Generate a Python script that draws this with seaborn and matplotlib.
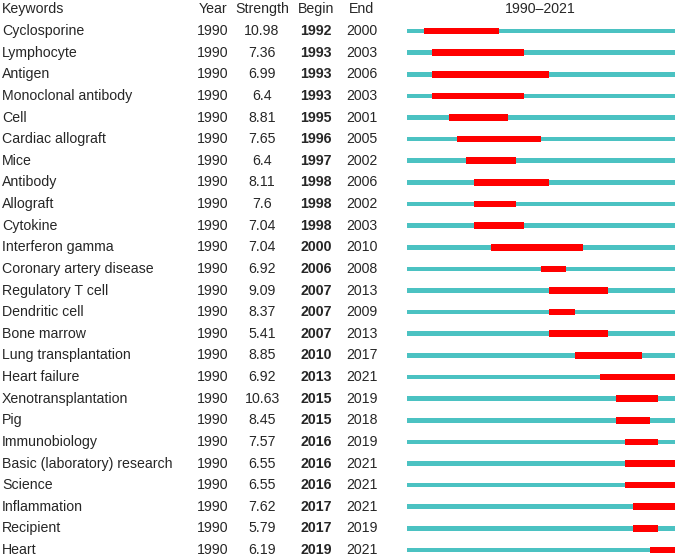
import numpy as np
import matplotlib.pyplot as plt
import matplotlib.transforms as mtransforms
import seaborn as sns

# --------------------------------------------------------------
# Data
# --------------------------------------------------------------

keywords = [
    "Cyclosporine", "Lymphocyte", "Antigen", "Monoclonal antibody", "Cell",
    "Cardiac allograft", "Mice", "Antibody", "Allograft", "Cytokine",
    "Interferon gamma", "Coronary artery disease", "Regulatory T cell",
    "Dendritic cell", "Bone marrow", "Lung transplantation", "Heart failure",
    "Xenotransplantation", "Pig", "Immunobiology", "Basic (laboratory) research",
    "Science", "Inflammation", "Recipient", "Heart",
]
year = [1990] * len(keywords)
strength = [
    10.98, 7.36, 6.99, 6.4, 8.81, 7.65, 6.4, 8.11, 7.6, 7.04,
    7.04, 6.92, 9.09, 8.37, 5.41, 8.85, 6.92, 10.63, 8.45, 7.57,
    6.55, 6.55, 7.62, 5.79, 6.19,
]
begin = [
    1992, 1993, 1993, 1993, 1995, 1996, 1997, 1998, 1998, 1998,
    2000, 2006, 2007, 2007, 2007, 2010, 2013, 2015, 2015, 2016,
    2016, 2016, 2017, 2017, 2019,
]
end = [
    2000, 2003, 2006, 2003, 2001, 2005, 2002, 2006, 2002, 2003,
    2010, 2008, 2013, 2009, 2013, 2017, 2021, 2019, 2018, 2019,
    2021, 2021, 2021, 2019, 2021,
]
span_start, span_end = 1990, 2021

# --------------------------------------------------------------
# Figure
# --------------------------------------------------------------

sns.set_theme(style="white")
plt.rcParams["font.family"] = ["Liberation Sans", "DejaVu Sans"]

W, H = 680, 560
fig = plt.figure(figsize=(W / 100, H / 100), dpi=100)

row0, step = 31, 21.625
ax = fig.add_axes([407 / W, 0, 268 / W, 1])
ax.set_xlim(span_start, span_end + 1)
ax.set_ylim((H - row0) / step, -row0 / step)
ax.axis("off")

rows = np.arange(len(keywords))
begin = np.array(begin)
end = np.array(end)

# full span line
ax.barh(rows, span_end + 1 - span_start, left=span_start, height=0.21,
        color="#4BC2C2", linewidth=0)
# burst segments
ax.barh(rows, end + 1 - begin, left=begin, height=0.31,
        color="#FF0000", linewidth=0)

# text columns (x in figure fraction, y in data rows)
trans = mtransforms.blended_transform_factory(fig.transFigure, ax.transData)
fs = 10.2
cols = [(2, "left"), (213, "center"), (262, "center"), (316, "center"), (362, "center")]
headers = ["Keywords", "Year", "Strength", "Begin", "End"]
for (x, ha), h in zip(cols, headers):
    ax.text(x / W, -1, h, transform=trans, ha=ha, va="center", fontsize=fs,
            clip_on=False)
ax.text(540 / W, -1, f"{span_start}\u2013{span_end}", transform=trans,
        ha="center", va="center", fontsize=fs, clip_on=False)

for i, kw in enumerate(keywords):
    vals = [kw, str(year[i]), f"{strength[i]:g}", str(begin[i]), str(end[i])]
    for j, ((x, ha), v) in enumerate(zip(cols, vals)):
        ax.text(x / W, i, v, transform=trans, ha=ha, va="center", fontsize=fs,
                fontweight="bold" if j == 3 else "normal", clip_on=False)

fig.savefig("out.png", dpi=100)
